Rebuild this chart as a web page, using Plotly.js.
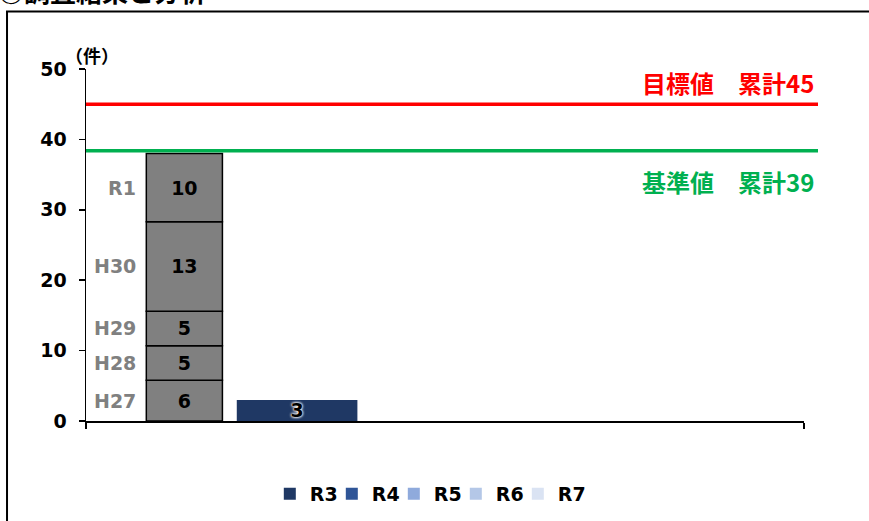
<!DOCTYPE html>
<html>
<head>
<meta charset="utf-8">
<script src="https://cdn.plot.ly/plotly-3.0.1.min.js"></script>
<style>html,body{margin:0;padding:0;background:#fff;}#chart{width:869px;height:521px;}</style>
</head>
<body>
<div id="chart"></div>
<script>
// ---- data ----
const pastYears = ["H27", "H28", "H29", "H30", "R1"];
const pastValues = [5.8, 4.9, 4.9, 12.7, 9.7];
const pastLabels = ["6", "5", "5", "13", "10"];
const recentYears = ["R3", "R4", "R5", "R6", "R7"];
const recentValues = [3, null, null, null, null];
const targetValue = 45;
const targetLabel = "目標値　累計45";
const baselineValue = 38.4;
const baselineLabel = "基準値　累計39";
const category = "累計";
const unitLabel = "（件）";
const pageTitle = "○調査結果と分析";
const yTicks = [0, 10, 20, 30, 40, 50];

// ---- styles ----
const FONT = "DejaVu Sans, Noto Sans CJK JP, sans-serif";
const JFONT = "Noto Sans CJK JP, DejaVu Sans, sans-serif";
const recentColors = ["#1F3864", "#2F5597", "#8FAADC", "#B4C7E7", "#DAE3F3"];
const greyBar = {offset: -0.416, width: 0.106};
const recentBar = {offset: -0.290, width: 0.168};
const b = s => "<b>" + s + "</b>";

const traces = [];
const annotations = [];
let cum = 0;
pastYears.forEach((yr, i) => {
  traces.push({
    type: "bar", x: [category], y: [pastValues[i]], base: [cum],
    offset: greyBar.offset, width: greyBar.width,
    marker: {color: "#808080", line: {color: "#000", width: 1.5}},
    text: [b(pastLabels[i])], textposition: "inside", insidetextanchor: "middle",
    textangle: 0, constraintext: "none",
    textfont: {family: FONT, size: 19, color: "#000"},
    showlegend: false, hoverinfo: "skip", name: yr
  });
  annotations.push({
    xref: "paper", yref: "y", x: 0.073, y: cum + pastValues[i] / 2,
    xanchor: "right", yanchor: "middle", showarrow: false, text: b(yr),
    font: {family: FONT, size: 19, color: "#808080"}
  });
  cum += pastValues[i];
});
recentYears.forEach((yr, i) => {
  traces.push({
    type: "bar", name: b(yr), x: [category], y: [recentValues[i]],
    offset: recentBar.offset, width: recentBar.width,
    marker: {color: recentColors[i]},
    text: recentValues[i] == null ? [""] : [b(String(recentValues[i]))],
    textposition: "inside", insidetextanchor: "middle", textangle: 0, constraintext: "none",
    textfont: {family: FONT, size: 19, color: "#000",
               shadow: "0px 0px 3px #fff, 0px 0px 3px #fff, 0px 0px 2px #fff"},
    hoverinfo: "skip"
  });
});
// empty spacer entry so the last legend label is not clipped
traces.push({type: "bar", name: " ", x: [category], y: [null], marker: {color: "rgba(0,0,0,0)"},
             hoverinfo: "skip"});

annotations.push(
  {xref: "paper", yref: "y", x: 1.0167, y: targetValue, yshift: 22, xanchor: "right", yanchor: "middle",
   showarrow: false, text: b(targetLabel), font: {family: JFONT, size: 24, color: "#FF0000"}},
  {xref: "paper", yref: "y", x: 1.0167, y: baselineValue, yshift: -31, xanchor: "right", yanchor: "middle",
   showarrow: false, text: b(baselineLabel), font: {family: JFONT, size: 24, color: "#00B050"}},
  {xref: "paper", yref: "paper", x: 0.009, y: 1.04, xanchor: "center", yanchor: "middle",
   showarrow: false, text: b(unitLabel), font: {family: JFONT, size: 18, color: "#000"}},
  {xref: "paper", yref: "paper", x: -0.125, y: 1.224, xanchor: "left", yanchor: "middle",
   showarrow: false, text: b(pageTitle), font: {family: JFONT, size: 26, color: "#000"}}
);

const layout = {
  width: 869, height: 521,
  margin: {l: 86, r: 65, t: 69, b: 100, autoexpand: false},
  paper_bgcolor: "#fff", plot_bgcolor: "rgba(0,0,0,0)",
  barmode: "overlay",
  showlegend: true,
  legend: {orientation: "h", x: 0.256, xanchor: "left", y: -0.207, yanchor: "middle",
           font: {family: FONT, size: 19, color: "#000"},
           entrywidth: 17, entrywidthmode: "pixels", itemwidth: 30,
           traceorder: "normal", itemclick: false},
  xaxis: {type: "category", range: [-0.5, 0.5], showticklabels: false, tickson: "boundaries",
          ticks: "outside", ticklen: 6, tickcolor: "#000", tickwidth: 1.5,
          showline: true, linecolor: "#000", linewidth: 1.5, showgrid: false, zeroline: false, fixedrange: true},
  yaxis: {range: [0, 50], tickmode: "array", tickvals: yTicks, ticktext: yTicks.map(v => b(v)),
          ticks: "outside", ticklen: 6, tickcolor: "#000", tickwidth: 1.5, ticklabelstandoff: 8,
          showline: true, linecolor: "#000", linewidth: 1.5, showgrid: false, zeroline: false,
          tickfont: {family: FONT, size: 19, color: "#000"}, fixedrange: true},
  shapes: [
    {type: "line", xref: "paper", yref: "y", x0: 0, x1: 1.0195, y0: targetValue, y1: targetValue,
     line: {color: "#FF0000", width: 3.5}},
    {type: "line", xref: "paper", yref: "y", x0: 0, x1: 1.0195, y0: baselineValue, y1: baselineValue,
     line: {color: "#00B050", width: 3.5}},
    {type: "path", xref: "paper", yref: "paper",
     path: "M -0.1100,-0.5 L -0.1100,1.163 L 1.2,1.163", line: {color: "#000", width: 2}}
  ],
  annotations: annotations
};

Plotly.newPlot("chart", traces, layout, {displayModeBar: false, staticPlot: true});
</script>
</body>
</html>
